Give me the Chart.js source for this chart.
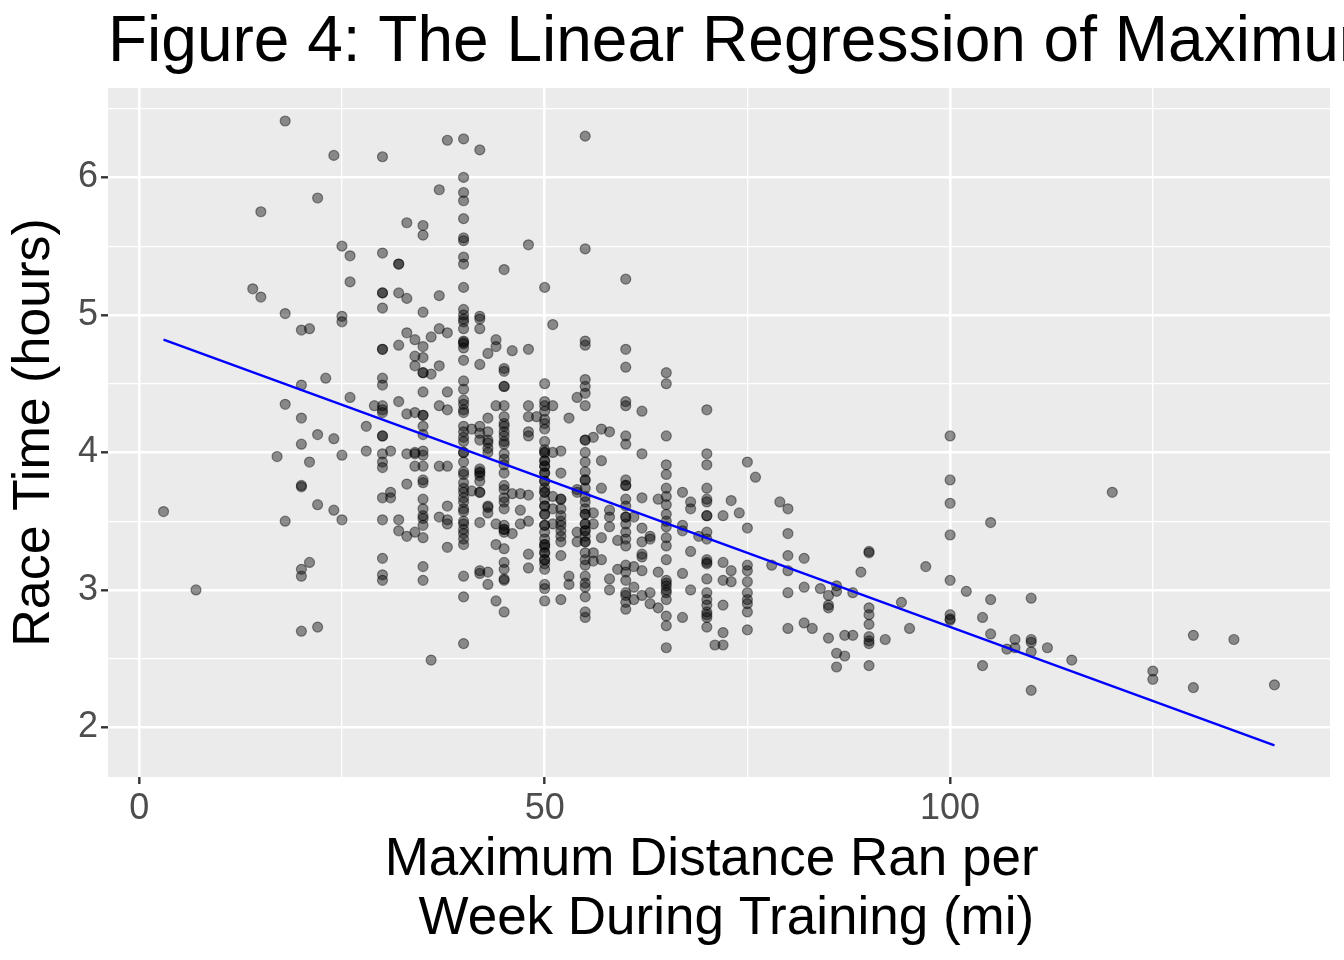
<!DOCTYPE html>
<html lang="en">
<head>
    <meta charset="UTF-8">
    <title>Figure 4: Linear Regression of Maximum Distance</title>
    <script src="https://cdn.jsdelivr.net/npm/chart.js"></script>
    <style>
        html, body {
            margin: 0;
            padding: 0;
            background: #ffffff;
        }
        #raceChart {
            display: block;
        }
    </style>
</head>
<body>
    <canvas id="raceChart" width="1344" height="960"></canvas>

    <script>
        // maximum weekly distance (mi) and the race times (hours) of the runners at that distance
        const distance = [
            3, 7, 14, 15, 17, 18, 20, 21, 22, 23, 24, 25, 26, 28, 29, 30, 31, 32, 33, 34, 35, 36, 37, 38,
            40, 41, 42, 43, 44, 45, 46, 47, 48, 49, 50, 51, 52, 53, 54, 55, 56, 57, 58, 59, 60, 61, 62,
            63, 64, 65, 67, 68, 69, 70, 71, 72, 73, 74, 75, 76, 78, 79, 80, 82, 83, 84, 85, 86, 87, 88,
            89, 90, 92, 94, 95, 97, 100, 102, 104, 105, 107, 108, 110, 112, 115, 120, 125, 130, 135, 140
        ];
        const raceTime = [
            [3.57],
            [3.00],
            [5.19],
            [5.75, 5.13],
            [3.97],
            [6.41, 5.01, 4.35, 3.50],
            [4.89, 4.49, 4.25, 4.06, 3.76, 3.75, 3.15, 3.10, 2.70],
            [4.90, 3.93, 3.20],
            [5.85, 4.13, 3.62, 2.73],
            [4.54],
            [6.16, 4.10, 3.58],
            [5.50, 4.99, 4.95, 3.98, 3.51],
            [5.43, 5.24, 4.40],
            [4.19, 4.01],
            [4.34],
            [6.15, 5.45, 5.16, 5.16, 5.05, 4.75, 4.75, 4.54, 4.49, 4.34, 4.31, 4.29, 4.12, 4.12, 3.99, 3.93,
             3.89, 3.67, 3.51, 3.23, 3.11, 3.07],
            [4.01, 3.71, 3.67],
            [5.37, 5.37, 5.16, 4.78, 4.37, 3.51, 3.43],
            [5.67, 5.12, 4.87, 4.28, 3.99, 3.77, 3.39],
            [4.82, 4.70, 4.63, 4.29, 3.99, 4.00, 3.90, 3.42],
            [5.65, 5.58, 5.02, 4.77, 4.69, 4.58, 4.58, 4.44, 4.27, 4.27, 4.19, 4.13, 4.01, 3.98, 3.90, 3.80,
             3.78, 3.66, 3.59, 3.54, 3.52, 3.47, 3.38, 3.17, 3.07],
            [4.84, 4.57, 2.49],
            [5.91, 5.14, 4.90, 4.63, 4.34, 3.90, 3.53],
            [6.27, 4.87, 4.44, 4.31, 3.90, 3.61, 3.51, 3.48, 3.31],
            [6.28, 6.00, 5.89, 5.83, 5.70, 5.56, 5.54, 5.42, 5.37, 5.20, 5.04, 5.00, 4.97, 4.95, 4.90, 4.81,
             4.80, 4.79, 4.76, 4.67, 4.52, 4.46, 4.38, 4.35, 4.31, 4.29, 4.19, 4.15, 4.11, 4.08, 4.00, 4.00,
             3.93, 3.86, 3.84, 3.78, 3.74, 3.71, 3.67, 3.64, 3.59, 3.57, 3.50, 3.48, 3.44, 3.41, 3.37, 3.33,
             3.10, 2.95, 2.61],
            [4.17, 3.72],
            [6.20, 4.99, 4.97, 4.90, 4.64, 4.19, 4.14, 4.09, 3.88, 3.86, 3.85, 3.83, 3.79, 3.71, 3.71, 3.49,
             3.14, 3.12],
            [4.72, 4.25, 4.15, 4.09, 4.07, 4.03, 4.00, 3.61, 3.60, 3.56, 3.13, 3.04],
            [4.82, 4.77, 4.34, 3.48, 3.33, 2.92],
            [5.33, 4.61, 4.59, 4.48, 4.48, 4.34, 4.26, 4.21, 4.19, 4.15, 4.12, 4.08, 4.06, 3.99, 3.95, 3.91,
             3.85, 3.76, 3.73, 3.67, 3.64, 3.59, 3.47, 3.44, 3.44, 3.42, 3.30, 3.20, 3.15, 3.08, 3.07, 2.84],
            [4.74, 3.70, 3.41],
            [3.70, 3.58, 3.48],
            [5.51, 4.75, 4.34, 4.26, 4.15, 4.12, 3.69, 3.50, 3.26, 3.16],
            [4.26],
            [5.20, 4.50, 4.37, 4.34, 4.30, 4.24, 4.21, 4.17, 4.08, 4.02, 4.00, 4.00, 3.94, 3.94, 3.90, 3.90,
             3.85, 3.85, 3.79, 3.79, 3.74, 3.71, 3.71, 3.66, 3.61, 3.61, 3.55, 3.55, 3.47, 3.47, 3.42, 3.37,
             3.33, 3.33, 3.31, 3.27, 3.27, 3.22, 3.22, 3.19, 3.15, 3.04, 3.01, 2.92],
            [4.93, 4.34, 4.00, 3.68, 3.59, 3.48],
            [4.01, 3.85, 3.66, 3.66, 3.59, 3.54, 3.50, 3.47, 3.43, 3.39, 3.35, 3.25, 2.93],
            [4.25, 3.10, 3.04],
            [4.40, 3.73, 3.71, 3.42, 3.35],
            [6.30, 5.48, 4.81, 4.78, 4.53, 4.48, 4.43, 4.34, 4.09, 4.09, 4.00, 3.93, 3.86, 3.80, 3.80, 3.74,
             3.68, 3.64, 3.59, 3.55, 3.55, 3.48, 3.48, 3.43, 3.43, 3.39, 3.35, 3.35, 3.27, 3.22, 3.18, 3.10,
             3.05, 3.02, 2.95, 2.84, 2.80],
            [4.11, 3.56, 3.48, 3.27, 3.21],
            [4.17, 3.94, 3.74, 3.38, 3.22],
            [4.15, 3.58, 3.53, 3.46, 3.08, 3.00],
            [3.36, 3.15],
            [5.26, 4.75, 4.62, 4.37, 4.34, 4.12, 4.06, 3.80, 3.76, 3.76, 3.66, 3.61, 3.53, 3.53, 3.48, 3.42,
             3.37, 3.32, 3.18, 3.13, 3.07, 2.98, 2.96, 2.91, 2.86],
            [3.53, 3.17, 3.02, 2.93],
            [4.30, 3.99, 3.67, 3.45, 3.35, 3.26, 3.24, 3.14, 2.96],
            [3.39, 3.37, 2.98, 2.90],
            [3.66, 3.13, 2.87],
            [4.58, 4.50, 4.12, 3.91, 3.84, 3.74, 3.68, 3.62, 3.55, 3.50, 3.46, 3.38, 3.32, 3.22, 3.07, 3.05,
             3.03, 3.00, 2.98, 2.93, 2.81, 2.74, 2.58],
            [3.71, 3.47, 3.43, 3.12, 2.80],
            [3.64, 3.59, 3.28, 3.00],
            [3.39],
            [4.31, 3.99, 3.91, 3.74, 3.66, 3.64, 3.54, 3.54, 3.42, 3.37, 3.22, 3.20, 3.19, 3.08, 2.98, 2.93,
             2.89, 2.84, 2.82, 2.80, 2.73],
            [2.60],
            [3.54, 3.20, 3.07, 2.89, 2.69, 2.60],
            [3.65, 3.14, 3.06],
            [3.56],
            [3.93, 3.45, 3.18, 3.14, 3.06, 2.98, 2.93, 2.90, 2.84, 2.71],
            [3.82],
            [3.18],
            [3.64],
            [3.59, 3.41, 3.25, 3.14, 2.98, 2.72],
            [3.23, 3.02, 2.76],
            [2.72],
            [3.01],
            [2.96, 2.89, 2.87, 2.65],
            [3.03, 2.99, 2.54, 2.44],
            [2.67, 2.52],
            [2.98, 2.67],
            [3.13],
            [3.28, 3.27, 2.87, 2.82, 2.75, 2.66, 2.63, 2.61, 2.45],
            [2.64],
            [2.91],
            [2.72],
            [3.17],
            [4.12, 3.80, 3.63, 3.40, 3.07, 2.82, 2.79, 2.78],
            [2.99],
            [2.80, 2.45],
            [3.49, 2.93, 2.68],
            [2.57],
            [2.64, 2.58],
            [2.94, 2.64, 2.62, 2.55, 2.27],
            [2.58],
            [2.49],
            [3.71],
            [2.41, 2.35],
            [2.67, 2.29],
            [2.64],
            [2.31]
        ];

        // fitted regression line, read at both ends of the data
        const fitDistance = [3, 140];
        const fitRaceTime = [4.82, 1.87];

        const xTickLabels = [0, 50, 100];
        const yTickLabels = [2, 3, 4, 5, 6];

        // the title runs past the right edge of the picture
        const titleText = 'Figure 4: The Linear Regression of Maximum';
        const fontFamily = '"Liberation Sans", Arial, Helvetica, sans-serif';

        const points = [];
        distance.forEach((d, i) => {
            raceTime[i].forEach(t => points.push({ x: d, y: t }));
        });
        const fitLine = fitDistance.map((d, i) => ({ x: d, y: fitRaceTime[i] }));

        // grauer Panel-Hintergrund und Titel wie bei ggplot
        const ggPanel = {
            id: 'ggPanel',
            beforeDraw(chart) {
                const { ctx, chartArea } = chart;
                ctx.save();
                ctx.fillStyle = '#EBEBEB';
                ctx.fillRect(chartArea.left, chartArea.top,
                    chartArea.right - chartArea.left, chartArea.bottom - chartArea.top);
                ctx.restore();
            },
            afterDraw(chart) {
                const ctx = chart.ctx;
                ctx.save();
                ctx.font = '64px ' + fontFamily;
                ctx.fillStyle = '#000000';
                ctx.textAlign = 'left';
                ctx.textBaseline = 'alphabetic';
                ctx.fillText(titleText, 108, 61);
                ctx.restore();
            }
        };

        function gridWidth(major) {
            return ctx => major.includes(ctx.tick.value) ? 2.6 : 1.3;
        }
        function tickColor(major) {
            return ctx => major.includes(ctx.tick.value) ? '#333333' : 'rgba(0,0,0,0)';
        }

        new Chart(document.getElementById('raceChart'), {
            type: 'scatter',
            data: {
                datasets: [
                    {
                        label: 'Race time',
                        data: points,
                        order: 1,
                        pointRadius: 5,
                        pointBorderWidth: 1.2,
                        backgroundColor: 'rgba(0, 0, 0, 0.42)',
                        borderColor: 'rgba(0, 0, 0, 0.42)',
                        pointHoverRadius: 5
                    },
                    {
                        label: 'Linear fit',
                        type: 'line',
                        data: fitLine,
                        order: 0,
                        showLine: true,
                        borderColor: '#0000FF',
                        borderWidth: 2.4,
                        pointRadius: 0,
                        fill: false
                    }
                ]
            },
            options: {
                responsive: false,
                animation: false,
                layout: {
                    padding: { top: 88, right: 14, bottom: 0, left: 0 }
                },
                plugins: {
                    legend: { display: false },
                    tooltip: { enabled: false },
                    title: { display: false }
                },
                scales: {
                    x: {
                        type: 'linear',
                        min: -3.85,
                        max: 146.85,
                        afterFit: scale => { scale.height = 183; },
                        border: { display: false },
                        grid: {
                            color: '#FFFFFF',
                            lineWidth: gridWidth(xTickLabels),
                            tickLength: 7,
                            tickColor: tickColor(xTickLabels),
                            tickWidth: 2.4
                        },
                        ticks: {
                            stepSize: 25,
                            includeBounds: false,
                            maxRotation: 0,
                            autoSkip: false,
                            padding: 3,
                            color: '#4D4D4D',
                            font: { family: fontFamily, size: 36, lineHeight: 1.2 },
                            callback: v => xTickLabels.includes(v) ? String(v) : ''
                        },
                        title: {
                            display: true,
                            text: ['Maximum Distance Ran per ', ' Week During Training (mi)'],
                            color: '#000000',
                            font: { family: fontFamily, size: 53, lineHeight: 1.12 },
                            padding: { top: 0, bottom: 11 }
                        }
                    },
                    y: {
                        type: 'linear',
                        min: 1.64,
                        max: 6.65,
                        afterFit: scale => { scale.width = 108; },
                        border: { display: false },
                        grid: {
                            color: '#FFFFFF',
                            lineWidth: gridWidth(yTickLabels),
                            tickLength: 7,
                            tickColor: tickColor(yTickLabels),
                            tickWidth: 2.4
                        },
                        ticks: {
                            stepSize: 0.5,
                            includeBounds: false,
                            autoSkip: false,
                            padding: 3,
                            color: '#4D4D4D',
                            font: { family: fontFamily, size: 36, lineHeight: 1.2 },
                            callback: v => yTickLabels.includes(v) ? String(v) : ''
                        },
                        title: {
                            display: true,
                            text: 'Race Time (hours)',
                            color: '#000000',
                            font: { family: fontFamily, size: 52, lineHeight: 1.2 },
                            padding: { top: 3, bottom: 0 }
                        }
                    }
                }
            },
            plugins: [ggPanel]
        });
    </script>
</body>
</html>
